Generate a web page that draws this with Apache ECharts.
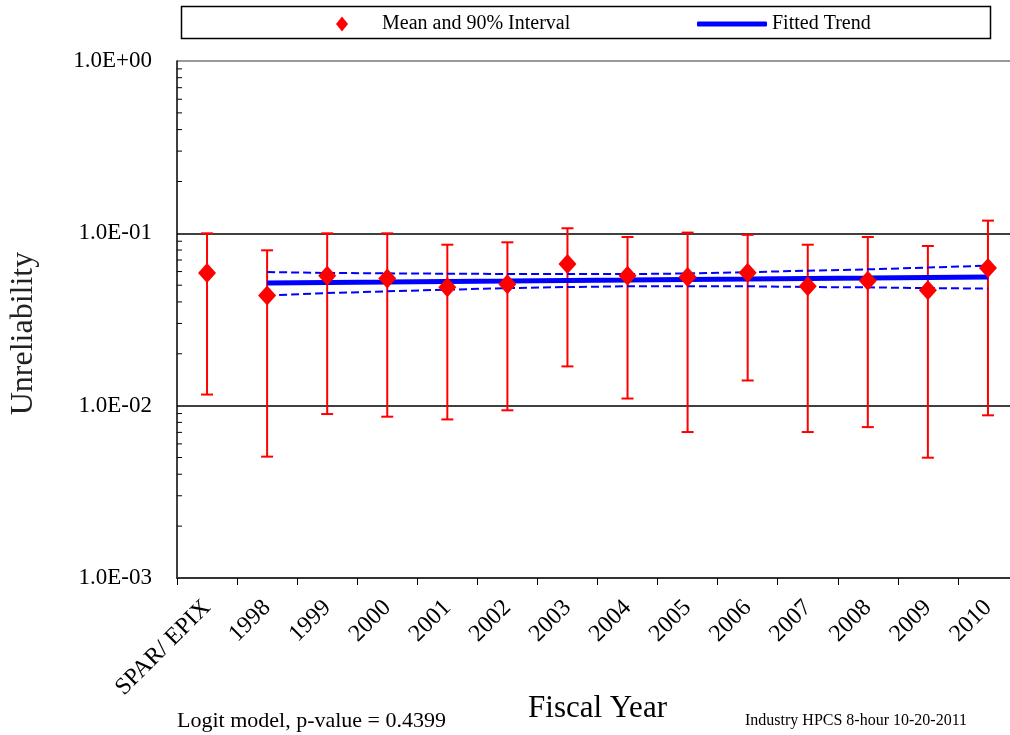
<!DOCTYPE html>
<html><head><meta charset="utf-8">
<script src="https://cdn.jsdelivr.net/npm/echarts@6/dist/echarts.min.js"></script>
<style>html,body{margin:0;padding:0;background:#fff}#c{width:1010px;height:735px}</style>
</head><body><div id="c"></div>
<script>
const categories = ['SPAR/ EPIX','1998','1999','2000','2001','2002','2003','2004','2005','2006','2007','2008','2009','2010'];
const meanVals  = [0.0589,0.0436,0.0568,0.0546,0.0486,0.0506,0.0664,0.0568,0.0558,0.0591,0.0493,0.0531,0.0467,0.0629];
const upperVals = [0.100,0.0797,0.100,0.100,0.0859,0.0887,0.107,0.0952,0.101,0.098,0.0859,0.0952,0.0844,0.1185];
const lowerVals = [0.0116,0.00506,0.00894,0.00863,0.00832,0.0094,0.0169,0.0110,0.00703,0.0140,0.00703,0.00751,0.00499,0.00879];
const trendVals  = [null,0.0515,0.0519,0.0522,0.0526,0.0529,0.0533,0.0536,0.0540,0.0543,0.0547,0.0550,0.0554,0.0558];
const trendUpper = [null,0.0596,0.0589,0.0586,0.0583,0.0581,0.0580,0.0580,0.0585,0.0595,0.0607,0.0618,0.0633,0.0649];
const trendLower = [null,0.0436,0.0450,0.0461,0.0471,0.0481,0.0488,0.0493,0.0493,0.0493,0.0488,0.0486,0.0481,0.0478];
const yTickLabels = {'-3':'1.0E-03','-2':'1.0E-02','-1':'1.0E-01','0':'1.0E+00'};
const minorTickVals = [];
[0.001,0.01,0.1].forEach(function(d){ for (let k=2;k<=9;k++) minorTickVals.push(+(k*d).toPrecision(3)); });

const FONT = '"Liberation Serif","Times New Roman",serif';
const chart = echarts.init(document.getElementById('c'));
const errData = categories.map((c,i)=>[i, lowerVals[i], upperVals[i]]);

chart.setOption({
  animation:false,
  backgroundColor:'#fff',
  grid:{left:177, top:61, width:841, height:517, outerBoundsMode:'none', containLabel:false},
  legend:[
    {data:['Mean and 90% Interval'], left:331, top:9, icon:'diamond', itemWidth:12, itemHeight:15,
     textStyle:{fontFamily:FONT, fontSize:20, color:'#000', padding:[0,0,0,29]}, selectedMode:false},
    {data:['Fitted Trend'], left:692, top:9, icon:'roundRect', itemWidth:70, itemHeight:5,
     textStyle:{fontFamily:FONT, fontSize:20, color:'#000', padding:[0,0,0,0]}, selectedMode:false}
  ],
  xAxis:{
    type:'category', data:categories, boundaryGap:true,
    axisLine:{lineStyle:{color:'#333', width:2}},
    axisTick:{show:true, length:7, inside:false, lineStyle:{color:'#000', width:1}},
    axisLabel:{rotate:45, fontFamily:FONT, fontSize:24, color:'#000', margin:26},
    splitLine:{show:false},
    name:'Fiscal Year', nameLocation:'middle', nameGap:115, nameMoveOverlap:false,
    nameTextStyle:{fontFamily:FONT, fontSize:31, color:'#000'}
  },
  yAxis:{
    type:'log', logBase:10, min:0.001, max:1,
    axisLine:{show:true, lineStyle:{color:'#000', width:1.5}},
    axisTick:{show:false},
    axisLabel:{fontFamily:FONT, fontSize:23, color:'#000', margin:25,
      formatter:function(v){ const e=Math.round(Math.log10(v)); return yTickLabels[String(e)] || ''; }},
    splitLine:{show:true, lineStyle:{color:['#000','#000','#000','#777'], width:1.6}},
    name:'Unreliability', nameLocation:'middle', nameGap:137, nameRotate:90, nameMoveOverlap:false,
    nameTextStyle:{fontFamily:FONT, fontSize:32, color:'#222', padding:[0,28,0,0]}
  },
  graphic:[
    {type:'rect', shape:{x:181.5, y:6.5, width:809, height:32}, style:{fill:'none', stroke:'#000', lineWidth:1.5}, z:-1,
     silent:true},
    {type:'text', left:177, top:710, style:{text:'Logit model, p-value = 0.4399', font:'22px '+FONT, fill:'#000'}},
    {type:'text', left:745, top:713, style:{text:'Industry HPCS 8-hour 10-20-2011', font:'16px '+FONT, fill:'#000'}}
  ],
  series:[
    {
      type:'custom', name:'minorTicks', silent:true, z:1,
      data:minorTickVals.map(v=>[0,v]),
      renderItem:function(params, api){
        const p = api.coord([0, api.value(1)]);
        const x0 = params.coordSys.x;
        return {type:'line', shape:{x1:x0, y1:p[1], x2:x0+5, y2:p[1]}, style:{stroke:'#000', lineWidth:1}};
      }
    },
    {
      type:'custom', name:'errorBars', silent:true, z:2,
      data:errData,
      renderItem:function(params, api){
        const lo = api.coord([api.value(0), api.value(1)]);
        const hi = api.coord([api.value(0), api.value(2)]);
        const hw = 6;
        const st = {stroke:'#FF0000', lineWidth:2};
        return {type:'group', children:[
          {type:'line', shape:{x1:lo[0], y1:lo[1], x2:hi[0], y2:hi[1]}, style:st},
          {type:'line', shape:{x1:lo[0]-hw, y1:lo[1], x2:lo[0]+hw, y2:lo[1]}, style:st},
          {type:'line', shape:{x1:hi[0]-hw, y1:hi[1], x2:hi[0]+hw, y2:hi[1]}, style:st}
        ]};
      }
    },
    {type:'line', name:'Fitted Trend', data:trendVals, z:3, symbol:'none', smooth:false,
     lineStyle:{color:'#0000FF', width:5}, itemStyle:{color:'#0000FF'}},
    {type:'line', name:'upperBand', data:trendUpper, z:3, symbol:'none',
     lineStyle:{color:'#0000FF', width:2, type:[8,4]}},
    {type:'line', name:'lowerBand', data:trendLower, z:3, symbol:'none',
     lineStyle:{color:'#0000FF', width:2, type:[8,4]}},
    {type:'scatter', name:'Mean and 90% Interval', data:meanVals, z:4, symbol:'diamond', symbolSize:[18,20],
     itemStyle:{color:'#FF0000', opacity:1}}
  ]
});
</script></body></html>
